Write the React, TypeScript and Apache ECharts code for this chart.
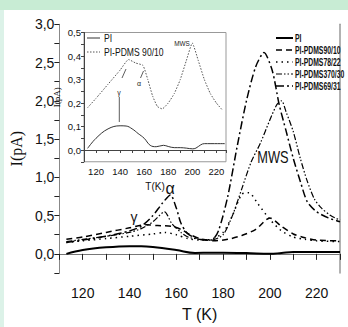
import React, { useEffect, useRef } from 'react';
import * as echarts from 'echarts';

const SANS = "'Liberation Sans', Arial, sans-serif";
const SERIF = "'Liberation Serif', 'DejaVu Serif', serif";

const seriesNames = ['PI', 'PI-PDMS90/10', 'PI-PDMS78/22', 'PI-PDMS370/30', 'PI-PDMS69/31'];

const piMain = [[113,0.0],[120,0.05],[130,0.085],[140,0.1],[145,0.1],[150,0.09],[160,0.05],[168,0.012],[175,0.015],[180,0.015],[190,0.01],[200,0.0],[205,0.012],[210,0.025],[230,0.025]];
const pdms9010 = [[113,0.19],[120,0.22],[130,0.28],[140,0.34],[147,0.38],[152,0.37],[158,0.36],[162,0.32],[166,0.25],[170,0.2],[176,0.17],[182,0.19],[188,0.24],[194,0.32],[200,0.47],[205,0.36],[210,0.26],[215,0.21],[220,0.18],[230,0.17]];
const pdms7822 = [[113,0.15],[120,0.17],[130,0.2],[140,0.23],[150,0.26],[155,0.28],[160,0.25],[165,0.2],[170,0.18],[175,0.19],[180,0.28],[184,0.5],[188,0.78],[191,0.8],[195,0.65],[200,0.45],[205,0.3],[210,0.22],[215,0.19],[220,0.17],[230,0.16]];
const pdms7030 = [[113,0.16],[120,0.19],[130,0.23],[140,0.28],[145,0.33],[150,0.42],[155,0.55],[158,0.4],[162,0.28],[165,0.22],[170,0.19],[175,0.18],[180,0.25],[184,0.5],[188,0.85],[192,1.2],[196,1.45],[200,1.75],[203,1.95],[205,2.0],[207,1.85],[210,1.6],[213,1.25],[216,0.95],[219,0.72],[222,0.6],[226,0.5],[230,0.44]];
const pdms6931 = [[113,0.15],[120,0.18],[130,0.23],[140,0.3],[145,0.36],[150,0.5],[154,0.66],[157.5,0.77],[160,0.6],[162,0.4],[165,0.26],[170,0.19],[175,0.18],[178,0.3],[182,0.75],[186,1.4],[190,2.0],[194,2.45],[197.5,2.63],[201,2.4],[204,1.95],[207,1.6],[210,1.25],[213,0.95],[216,0.68],[220,0.55],[225,0.47],[230,0.42]];

const insetNames = ['PI', 'PI-PDMS 90/10'];
const insetPI = [[113,0.007],[120,0.05],[130,0.09],[140,0.103],[145,0.102],[150,0.09],[155,0.07],[160,0.05],[165,0.02],[170,0.014],[176,0.02],[180,0.015],[185,0.01],[190,0.01],[195,0.008],[200,0.005],[203,0.008],[207,0.022],[210,0.027],[227,0.027]];
const insetPDMS = [[113,0.18],[120,0.22],[130,0.28],[140,0.34],[147,0.385],[153,0.37],[159,0.36],[163,0.3],[167,0.23],[171,0.185],[175,0.175],[180,0.2],[185,0.24],[190,0.3],[195,0.38],[200,0.455],[205,0.38],[210,0.3],[215,0.24],[220,0.2],[225,0.17]];

const mainStyles = [
  { width: 2, dash: [] as number[] },
  { width: 1.5, dash: [6, 4] },
  { width: 1.5, dash: [1.5, 4] },
  { width: 1.2, dash: [6, 2, 1.5, 2, 1.5, 2] },
  { width: 1.5, dash: [8, 3, 2, 3] },
];

const fmtComma = (v: number, step: number) => {
  const r = Math.round(v / step);
  if (Math.abs(v / step - r) > 1e-6 || v < -1e-9) return '';
  return (r * step).toFixed(1).replace('.', ',');
};

export default function App() {
  const ref = useRef<HTMLDivElement>(null);
  useEffect(() => {
    if (!ref.current) return;
    const chart = echarts.init(ref.current, undefined, { renderer: 'svg' });
    const mainSeries = [piMain, pdms9010, pdms7822, pdms7030, pdms6931].map((d, i) => ({
      type: 'line', name: seriesNames[i], data: d, showSymbol: false, symbol: 'none',
      xAxisIndex: 0, yAxisIndex: 0, smooth: i === 0 ? 0.4 : 0.25,
      lineStyle: { color: '#000', width: mainStyles[i].width, type: i === 0 ? 'solid' : mainStyles[i].dash },
    }));
    const legendGraphics: any[] = [];
    seriesNames.forEach((n, i) => {
      const y = 38 + i * 12;
      legendGraphics.push({ type: 'line', z: 100, shape: { x1: 276, y1: y, x2: 293, y2: y }, style: { stroke: '#000', lineWidth: mainStyles[i].width, lineDash: mainStyles[i].dash.length ? mainStyles[i].dash : null } });
      legendGraphics.push({ type: 'text', z: 100, x: 295, y, scaleX: 0.65, style: { text: n, fontFamily: SANS, fontWeight: 'bold', fontSize: 10.5, fill: '#111', verticalAlign: 'middle' } });
    });
    const option: any = {
      animation: false,
      backgroundColor: 'transparent',
      grid: [
        { left: 53, top: 24.3, right: 8, bottom: 49.2, show: false },
        { left: 84, top: 32.5, right: 122, bottom: 165.25, show: true, backgroundColor: '#fff', borderColor: '#999', borderWidth: 1, z: 5 },
      ],
      xAxis: [
        {
          gridIndex: 0, type: 'value', min: 110, max: 230, interval: 10,
          name: 'T (K)', nameLocation: 'middle', nameGap: 33,
          nameTextStyle: { fontFamily: SANS, fontSize: 16, color: '#111' },
          axisLine: { lineStyle: { color: '#777', width: 1 } },
          axisTick: { length: 6, lineStyle: { color: '#222' } },
          axisLabel: { fontFamily: SANS, fontSize: 14, color: '#111', margin: 13, formatter: (v: number) => (v % 20 === 0 ? String(v) : '') },
          splitLine: { show: false },
        },
        {
          gridIndex: 1, type: 'value', min: 110, max: 228, interval: 10,
          name: 'T(K)', nameLocation: 'middle', nameGap: 20,
          nameTextStyle: { fontFamily: SANS, fontSize: 10, color: '#111' },
          axisLine: { lineStyle: { color: '#444', width: 1 } },
          axisTick: { length: 3, lineStyle: { color: '#444' } },
          axisLabel: { fontFamily: SANS, fontSize: 9.5, color: '#111', margin: 5, formatter: (v: number) => (v % 20 === 0 && v >= 120 && v <= 220 ? String(v) : '') },
          splitLine: { show: false },
          z: 6,
        },
      ],
      yAxis: [
        {
          gridIndex: 0, type: 'value', min: -0.25, max: 3, interval: 0.25,
          name: 'I(pA)', nameLocation: 'middle', nameGap: 30,
          nameTextStyle: { fontFamily: SERIF, fontSize: 16, color: '#111' },
          axisLine: { show: true, lineStyle: { color: '#888', width: 1 } },
          axisTick: { show: true, length: 5, lineStyle: { color: '#222' } },
          axisLabel: { fontFamily: SANS, fontSize: 14, color: '#111', margin: 5, formatter: (v: number) => fmtComma(v, 0.5) },
          splitLine: { show: false },
        },
        {
          gridIndex: 0, type: 'value', min: -0.25, max: 3, position: 'right',
          axisLine: { show: true, lineStyle: { color: '#999', width: 1.5 } },
          axisTick: { show: false }, axisLabel: { show: false }, splitLine: { show: false },
        },
        {
          gridIndex: 1, type: 'value', min: -0.05, max: 0.5, interval: 0.05,
          name: 'I(pA)', nameLocation: 'middle', nameGap: 23,
          nameTextStyle: { fontFamily: SERIF, fontSize: 9, color: '#111' },
          axisLine: { show: true, lineStyle: { color: '#444', width: 1 } },
          axisTick: { show: true, length: 3, lineStyle: { color: '#444' } },
          axisLabel: { fontFamily: SANS, fontSize: 9.5, color: '#111', margin: 3, formatter: (v: number) => fmtComma(v, 0.1) },
          splitLine: { show: false },
          z: 6,
        },
      ],
      series: [
        ...mainSeries,
        { type: 'line', name: 'inset-' + insetNames[0], xAxisIndex: 1, yAxisIndex: 2, data: insetPI, showSymbol: false, symbol: 'none', smooth: 0.4, z: 7, lineStyle: { color: '#333', width: 1 } },
        { type: 'line', name: 'inset-' + insetNames[1], xAxisIndex: 1, yAxisIndex: 2, data: insetPDMS, showSymbol: false, symbol: 'none', smooth: 0.15, z: 7, lineStyle: { color: '#555', width: 1, type: [1.5, 1.5] } },
      ],
      graphic: [
        ...legendGraphics,
        { type: 'line', z: 100, shape: { x1: 87, y1: 38, x2: 100, y2: 38 }, style: { stroke: '#333', lineWidth: 1 } },
        { type: 'text', z: 100, x: 104, y: 38, scaleX: 0.78, style: { text: insetNames[0], fontFamily: SANS, fontSize: 11, fill: '#111', verticalAlign: 'middle' } },
        { type: 'line', z: 100, shape: { x1: 87, y1: 52, x2: 100, y2: 52 }, style: { stroke: '#555', lineWidth: 1, lineDash: [1.5, 1.5] } },
        { type: 'text', z: 100, x: 104, y: 52, scaleX: 0.78, style: { text: insetNames[1], fontFamily: SANS, fontSize: 11, fill: '#111', verticalAlign: 'middle' } },
        { type: 'text', z: 100, x: 182, y: 43, scaleX: 0.8, style: { text: 'MWS', fontFamily: SANS, fontSize: 8, fill: '#222', align: 'center', verticalAlign: 'middle' } },
        { type: 'text', z: 100, x: 119, y: 92, style: { text: 'γ', fontFamily: SANS, fontSize: 7, fill: '#222', align: 'center', verticalAlign: 'middle' } },
        { type: 'text', z: 100, x: 139, y: 83, style: { text: 'α', fontFamily: SANS, fontSize: 7, fill: '#222', align: 'center', verticalAlign: 'middle' } },
        { type: 'line', z: 100, shape: { x1: 119.3, y1: 97, x2: 119.3, y2: 122 }, style: { stroke: '#333', lineWidth: 0.8 } },
        { type: 'line', z: 100, shape: { x1: 122, y1: 78, x2: 126, y2: 69 }, style: { stroke: '#333', lineWidth: 0.8 } },
        { type: 'line', z: 100, shape: { x1: 140.5, y1: 78, x2: 143.5, y2: 71 }, style: { stroke: '#333', lineWidth: 0.8 } },
        { type: 'text', z: 100, x: 134, y: 217, style: { text: 'γ', fontFamily: SANS, fontSize: 14, fill: '#111', align: 'center', verticalAlign: 'middle' } },
        { type: 'text', z: 100, x: 170, y: 188, style: { text: 'α', fontFamily: SANS, fontSize: 16, fill: '#111', align: 'center', verticalAlign: 'middle' } },
        { type: 'text', z: 100, x: 273, y: 157, scaleX: 0.8, style: { text: 'MWS', fontFamily: SANS, fontSize: 16, fill: '#111', align: 'center', verticalAlign: 'middle' } },
      ],
    };
    chart.setOption(option);
    return () => chart.dispose();
  }, []);

  return (
    <div style={{ position: 'fixed', left: 0, top: 0, width: 348, height: 327, background: '#dcf2e8', overflow: 'hidden' }}>
      <div style={{ position: 'absolute', left: 0, top: 0, width: 348, height: 10, background: '#c8ecd4' }} />
      <div style={{ position: 'absolute', left: 4, top: 10, width: 344, height: 317, background: '#fff' }} />
      <div ref={ref} style={{ position: 'absolute', left: 0, top: 0, width: 348, height: 327 }} />
    </div>
  );
}
